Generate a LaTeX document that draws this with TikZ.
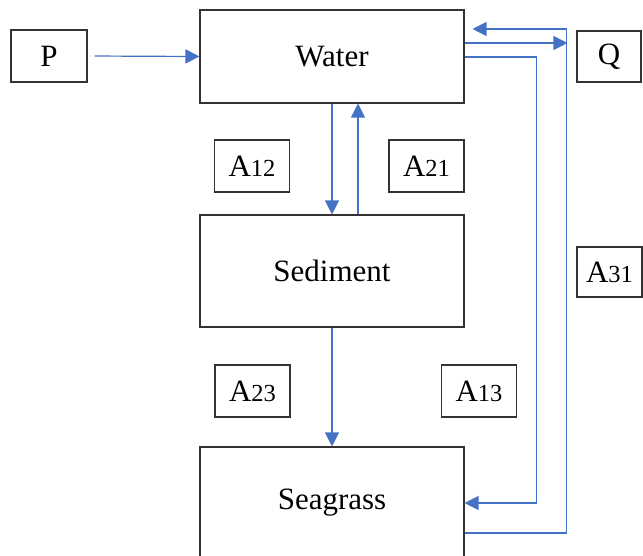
\documentclass[tikz,border=0pt]{standalone}
\usepackage{fontspec}
\setmainfont{Liberation Serif}
\usetikzlibrary{arrows.meta,calc}
\definecolor{arrblue}{HTML}{4472C4}
\tikzset{
  box/.style={draw=black!80, line width=1.1pt, rectangle, inner sep=0pt, font=\fontsize{31}{36}\selectfont},
  lab/.style={draw=black!80, line width=1.1pt, rectangle, inner sep=0pt, minimum width=75pt, minimum height=52pt, font=\fontsize{31}{36}\selectfont},
  arr/.style={draw=arrblue, line width=1.2pt, -{Triangle[length=14pt,width=14pt]}}
}
\newcommand{\alab}[1]{A\fontsize{24.5}{30}\selectfont #1}
\begin{document}
\begin{tikzpicture}[x=1pt,y=-1pt]
\clip (0,0) rectangle (643,556);
\fill[white] (0,0) rectangle (643,556);
% main boxes
\node[box, minimum width=264pt, minimum height=93pt] (water) at (332,56.5) {Water};
\node[box, minimum width=264pt, minimum height=112pt] (sediment) at (332,271) {Sediment};
\node[box, minimum width=264pt, minimum height=112pt] (seagrass) at (332,503) {Seagrass};
\node[box, minimum width=76pt, minimum height=52pt] (p) at (49,56) {P};
\node[box, minimum width=64pt, minimum height=51pt] (q) at (609,56.5) {Q};
% labels
\node[lab] (a12) at (252,166) {\alab{12}};
\node[lab] (a21) at (426.5,166) {\alab{21}};
\node[lab, minimum width=65pt, minimum height=50pt] (a31) at (609.5,272) {\alab{31}};
\node[lab] (a23) at (252.5,391) {\alab{23}};
\node[lab] (a13) at (479,391) {\alab{13}};
% connectors
\draw[arr, shorten <=7pt] (p.east) -- (water.west);
\draw[arr, shorten >=9pt] ([yshift=13.5pt]water.east) -- ([yshift=13.5pt]water.east -| q.west);
\draw[arr, shorten >=8pt] ([yshift=-30pt]seagrass.east) -- ++(102,0) |- ([yshift=27.5pt]water.east);
\draw[arr] ([yshift=-0.5pt]water.east) -- ++(72,0) |- (seagrass.east);
\draw[arr] (water.south) -- (sediment.north);
\draw[arr] ([xshift=26pt]sediment.north) -- ([xshift=26pt]water.south);
\draw[arr] (sediment.south) -- (seagrass.north);
\end{tikzpicture}
\end{document}
